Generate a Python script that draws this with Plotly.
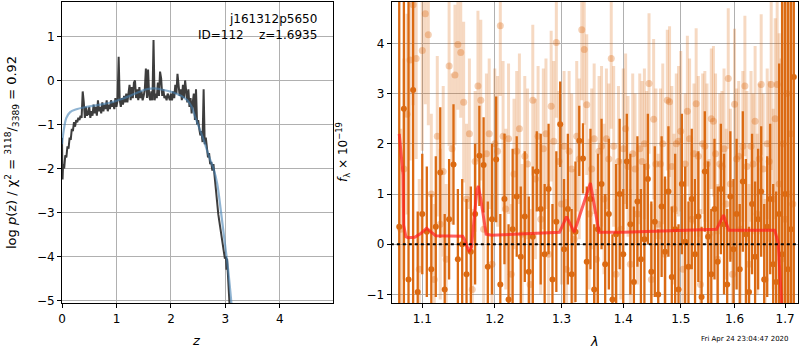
import plotly.graph_objects as go

# ---------------- left panel: log p(z) ----------------
z_pz = [0.00, 0.01, 0.02, 0.04, 0.06, 0.08, 0.10, 0.12, 0.14, 0.16, 0.18, 0.20, 0.22, 0.24, 0.26, 0.28,
        0.30, 0.32, 0.34, 0.36, 0.38, 0.40, 0.42, 0.44, 0.46, 0.48, 0.50, 0.52, 0.54, 0.56, 0.58, 0.60,
        0.62, 0.64, 0.66, 0.68, 0.70, 0.72, 0.74, 0.76, 0.78, 0.80, 0.82, 0.84, 0.86, 0.88, 0.90, 0.92,
        0.94, 0.96, 0.98, 1.00, 1.02, 1.04, 1.06, 1.08, 1.10, 1.12, 1.14, 1.16, 1.18, 1.20, 1.22, 1.24,
        1.26, 1.28, 1.30, 1.32, 1.34, 1.36, 1.38, 1.40, 1.42, 1.44, 1.46, 1.48, 1.50, 1.52, 1.54, 1.56,
        1.58, 1.60, 1.62, 1.64, 1.66, 1.68, 1.70, 1.72, 1.74, 1.76, 1.78, 1.80, 1.82, 1.84, 1.86, 1.88,
        1.90, 1.92, 1.94, 1.96, 1.98, 2.00, 2.02, 2.04, 2.06, 2.08, 2.10, 2.12, 2.14, 2.16, 2.18, 2.20,
        2.22, 2.24, 2.26, 2.28, 2.30, 2.32, 2.34, 2.36, 2.38, 2.40, 2.42, 2.44, 2.46, 2.48, 2.50, 2.52,
        2.54, 2.56, 2.58, 2.60, 2.62, 2.64, 2.66, 2.68, 2.70, 2.72, 2.74, 2.76, 2.78, 2.80, 2.84, 2.87,
        2.90, 2.94, 2.97, 2.99, 3.01, 3.02, 3.03, 3.05, 3.08]
logpz = [-1.30, -2.25, -1.90, -2.00, -1.70, -1.75, -1.50, -1.55, -1.30, -1.35, -1.10, -1.15, -0.95, -1.05, -0.90, -0.95,
         -0.85, -0.90, -0.80, -0.85, -0.25, -0.50, -0.85, -0.60, -0.80, -0.75, -0.60, -0.85, -0.70, -0.80, -0.55, -0.75,
         -0.60, -0.80, -0.45, -0.70, -0.60, -0.75, -0.50, -0.70, -0.55, -0.65, -0.45, -0.70, -0.55, -0.65, -0.45, -0.60,
         -0.50, -0.65, -0.40, -0.60, -0.45, 0.54, -0.45, -0.60, -0.40, -0.55, -0.35, -0.50, -0.30, -0.50, -0.35, -0.10,
         -0.45, -0.15, -0.40, -0.05, 0.00, -0.40, -0.20, -0.45, -0.15, -0.40, -0.25, -0.45, -0.35, -0.20, 0.27, -0.40,
         0.25, -0.35, -0.45, -0.25, -0.45, 0.92, -0.45, -0.30, -0.40, -0.05, -0.35, 0.20, 0.05, -0.35, -0.20, -0.40,
         -0.35, -0.45, -0.30, -0.40, -0.45, -0.30, -0.45, -0.25, -0.40, -0.10, -0.30, 0.15, -0.05, -0.35, -0.20, -0.45,
         -0.10, -0.40, 0.00, -0.30, -0.50, -0.20, -0.60, -0.40, -0.75, -0.50, -0.30, -0.90, -0.20, -1.00, -0.90, -1.10,
         -1.25, -1.15, -1.40, -0.20, -1.45, -1.30, -1.60, -1.75, -1.65, -1.90, -1.85, -2.05, -1.90, -2.20, -2.70, -3.05,
         -3.30, -3.65, -3.85, -4.05, -4.00, -4.30, -4.05, -4.40, -5.20]

z_prior = [0.00, 0.03, 0.08, 0.15, 0.25, 0.45, 0.70, 0.90, 1.10, 1.25, 1.40, 1.55, 1.70, 1.80, 1.95,
           2.10, 2.20, 2.30, 2.38, 2.45, 2.52, 2.60, 2.66, 2.72, 2.78, 2.85, 2.90, 2.95, 3.00, 3.05, 3.12]
logp_prior = [-1.45, -1.15, -0.85, -0.72, -0.66, -0.60, -0.55, -0.50, -0.42, -0.35, -0.27, -0.20, -0.18, -0.20, -0.24,
              -0.30, -0.36, -0.45, -0.60, -0.85, -1.08, -1.35, -1.58, -1.80, -2.00, -2.35, -2.80, -3.30, -3.80, -4.30, -5.20]

# ---------------- right panel: spectrum ----------------
lam_a = [1.070, 1.076, 1.082, 1.088, 1.094, 1.100, 1.106, 1.112, 1.118, 1.124,
         1.130, 1.136, 1.142, 1.148, 1.154, 1.160, 1.166, 1.172, 1.178, 1.184,
         1.190, 1.196, 1.202, 1.208, 1.214, 1.220, 1.226, 1.232, 1.238, 1.244,
         1.250, 1.256, 1.262, 1.268, 1.274, 1.280, 1.286, 1.292, 1.298, 1.304,
         1.310, 1.316, 1.322, 1.328, 1.334, 1.340, 1.346, 1.352, 1.358, 1.364,
         1.370, 1.376, 1.382, 1.388, 1.394, 1.400, 1.406, 1.412, 1.418, 1.424,
         1.430, 1.436, 1.442, 1.448, 1.454, 1.460, 1.466, 1.472, 1.478, 1.484,
         1.490, 1.496, 1.502, 1.508, 1.514, 1.520, 1.526, 1.532, 1.538, 1.544,
         1.550, 1.556, 1.562, 1.568, 1.574, 1.580, 1.586, 1.592, 1.598, 1.604,
         1.610, 1.616, 1.622, 1.628, 1.634, 1.640, 1.646, 1.652, 1.658, 1.664,
         1.670, 1.676, 1.682, 1.688, 1.694, 1.700, 1.706, 1.712, 1.718]
flux_a = [0.35, 2.70, -0.70, 3.07, -0.95, 0.60, 0.25, -0.50, 0.35, 1.43,
          -0.90, 0.50, 1.59, -0.30, 0.00, -0.60, -0.15, 0.60, 1.76, 1.58,
          -0.45, 0.50, 1.69, -0.80, 0.90, -1.10, 0.30, 0.95, -0.25, 0.55,
          -0.55, 0.15, 1.45, 0.70, -0.20, 1.10, -0.70, 0.45, 2.39, -0.10,
          0.70, -0.60, 0.25, 2.06, 1.71, -0.35, 0.90, -0.90, 0.30, 1.20,
          -0.40, 0.60, -1.10, 0.20, 1.00, -0.20, 1.65, 0.40, -0.75, 0.85,
          -0.30, 0.10, 1.30, -0.55, 0.45, -1.00, 0.75, -0.15, 1.05, -0.65,
          0.30, -0.90, 1.20, 0.05, -0.45, 0.90, -0.20, 0.55, -1.05, 1.45,
          0.15, -0.60, 0.70, -0.35, 1.10, 0.40, -0.80, 0.95, -0.10, 0.60,
          -0.50, 1.25, 0.20, -0.95, 0.80, -0.25, 0.50, 1.05, -0.70, 0.35,
          0.90, -0.40, -0.75, 0.60, -0.20, 1.00, -0.50, 0.30, 3.33]
err_a = [6.0, 6.0, 6.0, 5.0, 1.6, 1.2, 1.3, 1.5, 1.4, 1.3,
         1.5, 1.2, 1.2, 1.4, 1.3, 1.5, 1.3, 1.4, 1.0, 0.95,
         1.3, 1.5, 1.25, 1.4, 1.3, 1.5, 1.6, 1.2, 1.4, 1.3,
         1.5, 1.4, 0.8, 1.5, 1.4, 1.3, 1.5, 1.4, 0.85, 1.4,
         1.5, 1.3, 1.4, 0.7, 0.7, 1.5, 1.4, 1.3, 1.5, 1.3,
         1.4, 1.5, 1.3, 1.4, 1.5, 1.3, 0.95, 1.4, 1.5, 1.3,
         1.4, 1.5, 1.3, 1.4, 1.5, 1.3, 1.4, 1.5, 1.3, 1.4,
         1.5, 1.3, 1.4, 1.5, 1.3, 1.4, 1.5, 1.3, 1.4, 1.2,
         1.5, 1.3, 1.4, 1.5, 1.3, 1.4, 1.5, 1.3, 1.4, 1.5,
         1.3, 1.4, 1.5, 1.3, 1.4, 1.5, 1.4, 1.3, 1.5, 1.4,
         1.5, 1.6, 1.8, 3.0, 6.0, 6.0, 6.0, 6.0, 6.0]

lam_b = [1.072, 1.076, 1.080, 1.084, 1.088, 1.092, 1.096, 1.100, 1.104, 1.108,
         1.112, 1.116, 1.120, 1.124, 1.128, 1.132, 1.136, 1.140, 1.144, 1.148,
         1.152, 1.156, 1.160, 1.164, 1.168, 1.172, 1.176, 1.180, 1.184, 1.188,
         1.192, 1.196, 1.200, 1.204, 1.208, 1.212, 1.216, 1.220, 1.224, 1.228,
         1.232, 1.236, 1.240, 1.244, 1.248, 1.252, 1.256, 1.260, 1.264, 1.268,
         1.272, 1.276, 1.280, 1.284, 1.288, 1.292, 1.296, 1.300, 1.304, 1.308,
         1.312, 1.316, 1.320, 1.324, 1.328, 1.332, 1.336, 1.340, 1.344, 1.348,
         1.352, 1.356, 1.360, 1.364, 1.368, 1.372, 1.376, 1.380, 1.384, 1.388,
         1.392, 1.396, 1.400, 1.404, 1.408, 1.412, 1.416, 1.420, 1.424, 1.428,
         1.432, 1.436, 1.440, 1.444, 1.448, 1.452, 1.456, 1.460, 1.464, 1.468,
         1.472, 1.476, 1.480, 1.484, 1.488, 1.492, 1.496, 1.500, 1.504, 1.508,
         1.512, 1.516, 1.520, 1.524, 1.528, 1.532, 1.536, 1.540, 1.544, 1.548,
         1.552, 1.556, 1.560, 1.564, 1.568, 1.572, 1.576, 1.580, 1.584, 1.588,
         1.592, 1.596, 1.600, 1.604, 1.608, 1.612, 1.616, 1.620, 1.624, 1.628,
         1.632, 1.636, 1.640, 1.644, 1.648, 1.652, 1.656, 1.660, 1.664, 1.668,
         1.672, 1.676, 1.680, 1.684, 1.688, 1.692, 1.696, 1.700, 1.704, 1.708,
         1.712, 1.716]
flux_b = [0.30, 1.50, 2.59, 3.67, 4.77, 3.70, -0.50, 3.86, 4.59, 4.17,
          1.00, -0.70, 2.15, 0.40, 1.45, -0.30, 3.55, 1.90, 3.37, 3.98,
          3.82, 2.83, 0.90, 2.20, -0.90, 1.65, 3.15, 2.87, 0.30, 1.80,
          2.20, -0.40, 2.00, 1.85, 4.35, 2.15, 0.70, 2.10, -0.60, 1.40,
          1.85, 2.30, 0.20, 1.75, 1.60, -0.80, 2.87, 1.30, 2.15, 0.50,
          1.90, 2.20, -0.20, 2.75, 2.05, 4.02, 1.65, 0.80, 1.95, -0.50,
          1.85, 1.50, 0.10, 2.15, 1.70, 4.27, 3.88, 2.78, 0.60, 1.50,
          2.10, -0.30, 1.85, 1.95, 0.90, 2.10, 1.70, 3.70, 1.95, -0.60,
          1.65, 0.30, 1.90, 2.30, 1.55, -0.40, 1.80, 1.50, 0.60, 1.90,
          1.65, 2.00, 1.55, 3.20, -0.70, 2.49, 1.60, 0.40, 1.60, 2.00,
          -0.20, 2.87, 2.84, 1.55, 0.70, 2.00, 2.05, 2.25, -0.50, 1.60,
          2.65, 2.10, 0.50, 1.80, 2.80, 1.75, -0.80, 2.00, 1.95, 1.60,
          0.20, 2.50, 2.45, 1.80, -0.30, 1.60, 1.55, 1.90, 0.80, 3.30,
          1.20, -0.60, 2.79, 1.70, 1.75, 0.30, 1.95, 3.15, 1.55, -0.40,
          1.95, 1.60, 2.45, 0.60, 1.70, 3.18, 1.50, -0.70, 2.00, 1.65,
          3.18, 0.90, 2.50, 3.18, 1.20, -0.30, 2.00, 0.50, 3.00, 1.00,
          2.20, 0.80]
err_b = [2.0, 2.2, 2.0, 2.0, 2.0, 2.0, 1.8, 2.0, 1.8, 1.8,
         1.6, 1.5, 1.6, 1.5, 1.7, 1.5, 1.6, 1.5, 1.4, 1.3,
         1.3, 1.6, 1.5, 1.5, 1.6, 1.4, 1.5, 1.6, 1.5, 1.6,
         1.5, 1.4, 1.5, 1.5, 1.4, 1.5, 1.6, 1.5, 1.4, 1.5,
         1.6, 1.5, 1.4, 1.6, 1.5, 1.5, 1.5, 1.6, 1.4, 1.5,
         1.6, 1.5, 1.4, 1.5, 1.6, 1.5, 1.4, 1.6, 1.5, 1.4,
         1.6, 1.5, 1.4, 1.5, 1.6, 1.4, 1.5, 1.4, 1.5, 1.6,
         1.5, 1.4, 1.5, 1.6, 1.5, 1.4, 1.5, 1.4, 1.6, 1.5,
         1.5, 1.4, 1.6, 1.5, 1.4, 1.5, 1.6, 1.5, 1.4, 1.5,
         1.6, 1.5, 1.5, 1.4, 1.5, 1.6, 1.5, 1.4, 1.5, 1.6,
         1.5, 1.4, 1.5, 1.6, 1.5, 1.4, 1.5, 1.6, 1.5, 1.4,
         1.5, 1.6, 1.5, 1.4, 1.5, 1.6, 1.5, 1.4, 1.5, 1.6,
         1.5, 1.4, 1.5, 1.6, 1.5, 1.4, 1.5, 1.6, 1.5, 1.4,
         1.5, 1.6, 1.5, 1.4, 1.5, 1.6, 1.5, 1.4, 1.5, 1.6,
         1.5, 1.4, 1.5, 1.6, 1.5, 1.4, 1.5, 1.6, 1.5, 1.6,
         1.7, 1.8, 2.0, 2.2, 3.0, 4.0, 5.0, 5.0, 5.0, 5.0,
         5.0, 5.0]

lam_model = [1.070, 1.075, 1.0757, 1.0786, 1.0815, 1.090, 1.0985, 1.1058, 1.112, 1.1178, 1.1546, 1.157,
             1.1635, 1.167, 1.1745, 1.1765, 1.180, 1.1876, 1.1955, 1.297, 1.308, 1.320, 1.3459, 1.3598,
             1.400, 1.566, 1.579, 1.589, 1.679, 1.686, 1.693, 1.700]
flux_model = [2.20, 1.38, 0.38, 0.15, 0.13, 0.14, 0.22, 0.32, 0.24, 0.17, 0.16, 0.10,
              -0.15, -0.05, 1.08, 1.16, 0.90, 0.20, 0.18, 0.24, 0.55, 0.24, 1.22, 0.24,
              0.24, 0.30, 0.58, 0.28, 0.28, 0.04, -1.20, -2.50]

lam_ticks = [1.1, 1.2, 1.3, 1.4, 1.5, 1.6, 1.7]

ORANGE = "#db6a12"
LIGHT_BAR = "rgba(217,95,2,0.24)"
LIGHT_PT = "rgba(217,95,2,0.30)"
FONT = "DejaVu Sans"

fig = go.Figure()

fig.add_trace(go.Scatter(x=z_pz, y=logpz, mode="lines", line=dict(color="rgba(40,40,40,0.9)", width=2),
                         xaxis="x", yaxis="y", showlegend=False))
fig.add_trace(go.Scatter(x=z_prior, y=logp_prior, mode="lines", line=dict(color="rgba(70,130,180,0.6)", width=2.2, shape="spline"),
                         xaxis="x", yaxis="y", showlegend=False))

fig.add_trace(go.Scatter(x=lam_b, y=flux_b, mode="markers",
                         marker=dict(color=LIGHT_PT, size=7, line=dict(width=0)),
                         error_y=dict(type="data", array=err_b, visible=True, thickness=3, width=0, color=LIGHT_BAR),
                         xaxis="x2", yaxis="y2", showlegend=False))
fig.add_trace(go.Scatter(x=lam_a, y=flux_a, mode="markers",
                         marker=dict(color=ORANGE, size=6, line=dict(width=0)),
                         error_y=dict(type="data", array=err_a, visible=True, thickness=2.3, width=0, color=ORANGE),
                         xaxis="x2", yaxis="y2", showlegend=False))
fig.add_trace(go.Scatter(x=lam_model, y=flux_model, mode="lines", line=dict(color="rgba(255,30,30,0.7)", width=3),
                         xaxis="x2", yaxis="y2", showlegend=False))
fig.add_trace(go.Scatter(x=[1.0, 1.8], y=[0, 0], mode="lines", line=dict(color="black", width=2, dash="dot"),
                         xaxis="x2", yaxis="y2", showlegend=False))

ax_common = dict(showline=True, linecolor="black", linewidth=1, mirror=True,
                 ticks="outside", ticklen=4, tickcolor="black", tickwidth=1, automargin=False,
                 showgrid=True, gridcolor="#b0b0b0", gridwidth=1, zeroline=False,
                 tickfont=dict(family=FONT, size=12, color="black"))

fig.update_layout(
    width=800, height=350, margin=dict(l=0, r=0, t=0, b=0, pad=0),
    paper_bgcolor="white", plot_bgcolor="white",
    xaxis=dict(domain=[0.0775, 0.4166], range=[0, 4.98], tickvals=[0, 1, 2, 3, 4], anchor="y", **ax_common),
    yaxis=dict(domain=[0.1329, 0.9951], range=[-5.07, 1.79], tickvals=[-5, -4, -3, -2, -1, 0, 1],
               ticktext=["\u22125", "\u22124", "\u22123", "\u22122", "\u22121", "0", "1"], anchor="x", **ax_common),
    xaxis2=dict(domain=[0.4896, 0.9975], type="log", range=[0.02545, 0.2372], tickvals=lam_ticks,
                ticktext=[str(v) for v in lam_ticks], anchor="y2", **ax_common),
    yaxis2=dict(domain=[0.1329, 0.9951], range=[-1.18, 4.83], tickvals=[-1, 0, 1, 2, 3, 4],
                ticktext=["\u22121", "0", "1", "2", "3", "4"], anchor="x2", **ax_common),
    font=dict(family=FONT, size=12, color="black"),
)

ann = [
    dict(text="j161312p5650", x=319, y=350 - 19, xanchor="right", yanchor="middle", font=dict(size=12)),
    dict(text="ID=112    z=1.6935", x=319, y=350 - 35, xanchor="right", yanchor="middle", font=dict(size=12)),
    dict(text="<i>z</i>", x=196, y=350 - 340, xanchor="center", yanchor="middle", font=dict(size=13)),
    dict(text="<i>λ</i>", x=594, y=350 - 341, xanchor="center", yanchor="middle", font=dict(size=13)),
    dict(text="log <i>p</i>(z) / χ<sup>2</sup> = <sup>3118</sup>/<sub>3389</sub> = 0.92", x=12, y=350 - 153,
         xanchor="center", yanchor="middle", textangle=-90, font=dict(size=13)),
    dict(text="<i>f</i><sub>λ</sub> × 10<sup>−19</sup>", x=343, y=350 - 152,
         xanchor="center", yanchor="middle", textangle=-90, font=dict(size=12)),
    dict(text="Fri Apr 24 23:04:47 2020", x=745, y=350 - 339, xanchor="center", yanchor="middle", font=dict(size=7)),
]
for a in ann:
    a.update(xref="paper", yref="paper", showarrow=False)
    a["x"] = a["x"] / 800.0
    a["y"] = a["y"] / 350.0
    a["font"].setdefault("family", FONT)
    a["font"].setdefault("color", "black")
fig.update_layout(annotations=ann)

fig.write_html("out.html", config={"displayModeBar": False},
               post_script="document.body.style.margin='0';document.body.style.padding='0';document.body.style.overflow='hidden';")
